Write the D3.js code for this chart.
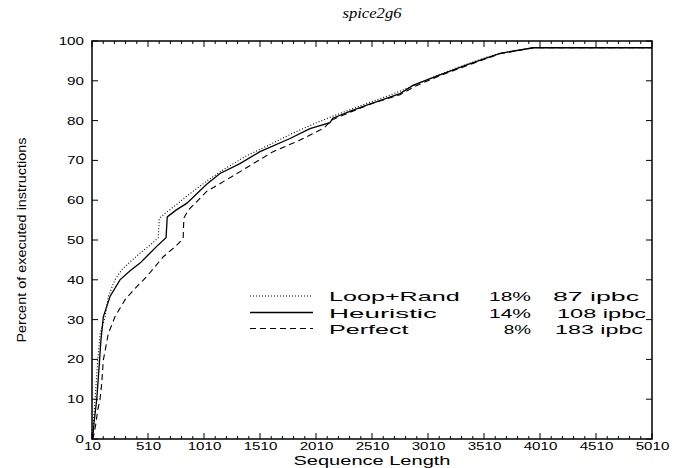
<!DOCTYPE html>
<html>
<head>
<meta charset="utf-8">
<script src="https://cdn.jsdelivr.net/npm/d3@7"></script>
<style>
  html, body { margin: 0; padding: 0; background: #fff; }
  svg { display: block; }
</style>
</head>
<body>
<svg id="chart" width="678" height="468"></svg>
<script>
// Coverage of executed instructions against sequence length, spice2g6
const loopX = [10, 20, 37, 61, 83, 126, 156, 215, 275, 350, 439, 520, 602, 611, 662, 760, 855, 1034, 1200, 1400, 1600, 1800, 2000, 2150, 2300, 2500, 2700, 2900, 3100, 3300, 3500, 3650, 3800, 3950, 4500, 5010];
const loopY = [0, 3, 9.8, 19.8, 26.6, 30.5, 35.8, 40, 42.5, 44.5, 46.7, 48.5, 50.6, 55.4, 56.7, 58.8, 61, 64.8, 68, 71.3, 74, 76.8, 79.3, 81, 82.6, 84.7, 86.7, 89, 91.4, 93.6, 95.6, 96.9, 97.6, 98.3, 98.3, 98.3];

const heurX = [10, 16, 31, 52, 73, 90, 111, 171, 260, 350, 439, 520, 588, 671, 682, 760, 855, 1034, 1153, 1331, 1510, 1778, 1956, 2135, 2160, 2313, 2463, 2760, 2879, 3117, 3355, 3653, 3950, 4500, 5010];
const heurY = [0, 0.3, 4.8, 9.8, 18, 24.9, 30.7, 35.8, 40, 42.3, 44.2, 46.5, 48.4, 50.6, 55.8, 57.5, 59.2, 64, 66.7, 69.2, 72.2, 75.5, 78, 79.5, 80.6, 82.3, 83.9, 86.8, 88.9, 91.5, 94, 96.9, 98.3, 98.3, 98.3];

const perfX = [10, 22, 45, 61, 81, 97, 111, 156, 215, 305, 400, 498, 647, 760, 824, 830, 870, 1034, 1257, 1450, 1628, 1867, 2074, 2160, 2313, 2500, 2760, 2900, 3117, 3355, 3653, 3950, 4500, 5010];
const perfY = [0, 0.5, 3.9, 7.3, 9.8, 14, 19.8, 26.5, 30.7, 35, 38, 40.8, 45.8, 48.5, 50.4, 55.5, 57.5, 62.2, 65.9, 69.2, 72.2, 75.1, 78, 80.3, 82.1, 84.2, 86.5, 88.7, 91.3, 93.8, 96.8, 98.3, 98.3, 98.3];

const seriesNames = ["Loop+Rand", "Heuristic", "Perfect"];
const seriesPct = ["18%", "14%", "8%"];
const seriesIpbc = ["87 ipbc", "108 ipbc", "183 ipbc"];

const xTicks = [10, 510, 1010, 1510, 2010, 2510, 3010, 3510, 4010, 4510, 5010];
const yTicks = [0, 10, 20, 30, 40, 50, 60, 70, 80, 90, 100];

const svg = d3.select("#chart");
const L = 92, R = 652, T = 41, B = 439;
const x = d3.scaleLinear().domain([10, 5010]).range([L, R]);
const y = d3.scaleLinear().domain([0, 100]).range([B, T]);

const SANS = "'Liberation Sans', Arial, Helvetica, sans-serif";

// horizontally widen text elements by a factor
function widen(sel, sx) {
  sel.each(function () {
    const w = this.getComputedTextLength();
    d3.select(this).attr("textLength", w * sx).attr("lengthAdjust", "spacingAndGlyphs");
  });
}

// inward ticks: minor every 100 along x, major every 500; every 10 along y
const minorX = d3.range(10, 5011, 100);
const tg = svg.append("g").attr("stroke", "#000").attr("stroke-width", 1);
minorX.forEach(v => {
  const major = (v - 10) % 500 === 0;
  const len = major ? 6 : 3;
  tg.append("line").attr("x1", x(v)).attr("x2", x(v)).attr("y1", B).attr("y2", B - len);
  tg.append("line").attr("x1", x(v)).attr("x2", x(v)).attr("y1", T).attr("y2", T + len);
});
yTicks.forEach(v => {
  tg.append("line").attr("x1", L).attr("x2", L + 6).attr("y1", y(v)).attr("y2", y(v));
  tg.append("line").attr("x1", R).attr("x2", R - 6).attr("y1", y(v)).attr("y2", y(v));
});

// axis labels
const xAxis = svg.append("g").attr("transform", `translate(0,${B})`)
  .call(d3.axisBottom(x).tickValues(xTicks).tickSize(0).tickPadding(8).tickFormat(d3.format("d")));
xAxis.select(".domain").remove();
xAxis.selectAll("text").attr("font-family", SANS).attr("font-size", 10.5).attr("fill", "#000")
  .attr("dy", "0.71em").attr("y", 4);
widen(xAxis.selectAll("text"), 1.44);

const yAxis = svg.append("g").attr("transform", `translate(${L},0)`)
  .call(d3.axisLeft(y).tickValues(yTicks).tickSize(0).tickPadding(8).tickFormat(d3.format("d")));
yAxis.select(".domain").remove();
yAxis.selectAll("text").attr("font-family", SANS).attr("font-size", 11).attr("fill", "#000");
widen(yAxis.selectAll("text"), 1.38);

// frame
svg.append("rect").attr("x", L).attr("y", T).attr("width", R - L).attr("height", B - T)
  .attr("fill", "none").attr("stroke", "#000").attr("stroke-width", 1.5);

// curves
const line = d3.line().x(d => x(d[0])).y(d => y(d[1]));
const styles = [
  { dash: "1,2", width: 1.1 },
  { dash: null, width: 1.3 },
  { dash: "6,4", width: 1.1 }
];
const series = [
  d3.zip(loopX, loopY),
  d3.zip(heurX, heurY),
  d3.zip(perfX, perfY)
];
series.forEach((pts, i) => {
  svg.append("path").datum(pts).attr("d", line)
    .attr("fill", "none").attr("stroke", "#000")
    .attr("stroke-width", styles[i].width)
    .attr("stroke-dasharray", styles[i].dash);
});

// legend
const rowY = [296, 312.5, 328.5];
const nameLen = [130.7, 107.9, 79.5];
const pctLen = [42, 42, 27.3];
const ipbcLen = [86, 89, 88];
const ipbcStart = [553, 557, 555];
seriesNames.forEach((name, i) => {
  const yy = rowY[i];
  svg.append("line").attr("x1", 250).attr("x2", 313).attr("y1", yy).attr("y2", yy)
    .attr("stroke", "#000").attr("stroke-width", styles[i].width)
    .attr("stroke-dasharray", styles[i].dash);
  svg.append("text").attr("x", 329).attr("y", yy + 5).text(name)
    .attr("font-family", SANS).attr("font-size", 13)
    .attr("textLength", nameLen[i]).attr("lengthAdjust", "spacingAndGlyphs");
  svg.append("text").attr("x", 531 - pctLen[i]).attr("y", yy + 5).text(seriesPct[i])
    .attr("font-family", SANS).attr("font-size", 13)
    .attr("textLength", pctLen[i]).attr("lengthAdjust", "spacingAndGlyphs");
  svg.append("text").attr("x", ipbcStart[i]).attr("y", yy + 5).text(seriesIpbc[i])
    .attr("font-family", SANS).attr("font-size", 13)
    .attr("textLength", ipbcLen[i]).attr("lengthAdjust", "spacingAndGlyphs");
});

// titles
svg.append("text").attr("x", 372).attr("y", 18).attr("text-anchor", "middle")
  .attr("font-family", "'Liberation Serif', 'Times New Roman', serif")
  .attr("font-style", "italic").attr("font-size", 14)
  .attr("textLength", 59).attr("lengthAdjust", "spacingAndGlyphs")
  .text("spice2g6");

svg.append("text").attr("x", 372).attr("y", 465).attr("text-anchor", "middle")
  .attr("font-family", SANS).attr("font-size", 13.5)
  .attr("textLength", 157).attr("lengthAdjust", "spacingAndGlyphs")
  .text("Sequence Length");

svg.append("text").attr("transform", `translate(26,${(T + B) / 2}) rotate(-90)`)
  .attr("text-anchor", "middle")
  .attr("font-family", SANS).attr("font-size", 12.5)
  .attr("textLength", 205).attr("lengthAdjust", "spacingAndGlyphs")
  .text("Percent of executed instructions");
</script>
</body>
</html>
